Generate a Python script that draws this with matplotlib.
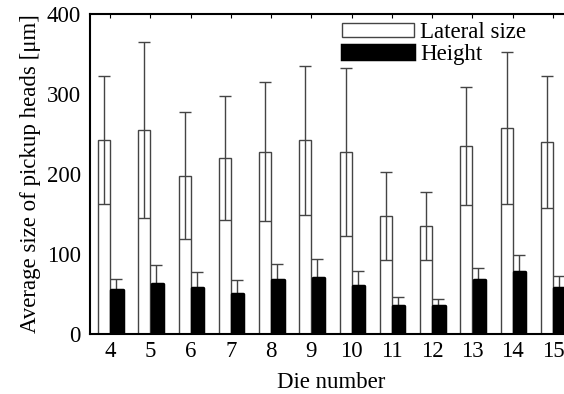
import matplotlib
matplotlib.use("Agg")
import matplotlib.pyplot as plt
import numpy as np

plt.rcParams['font.family'] = ['Liberation Serif', 'DejaVu Serif']

# Per-die measurements (micrometres)
dies = [4, 5, 6, 7, 8, 9, 10, 11, 12, 13, 14, 15]
lateral_mean = [242, 255, 198, 220, 228, 242, 227, 147, 135, 235, 258, 240]
lateral_sd = [80, 110, 79, 77, 87, 93, 105, 55, 42, 74, 95, 82]
height_mean = [55, 62, 57, 50, 67, 70, 60, 35, 35, 67, 78, 57]
height_sd = [14, 24, 21, 17, 21, 24, 19, 11, 9, 16, 21, 16]

fig = plt.figure(figsize=(5.64, 3.94), dpi=100)
ax = fig.add_axes([90 / 564, 60 / 394, 483 / 564, 320 / 394])

x = np.arange(len(dies))
w = 0.3
fs = 16.5

ax.bar(x - w / 2, lateral_mean, width=w, color='white', edgecolor='#444444',
       linewidth=1.0, label='Lateral size', zorder=2)
ax.errorbar(x - w / 2, lateral_mean, yerr=lateral_sd, fmt='none',
            ecolor='#444444', elinewidth=1.0, capsize=4, capthick=1.0, zorder=3)

ax.errorbar(x + w / 2, height_mean, yerr=[np.zeros(len(dies)), height_sd],
            fmt='none', ecolor='#444444', elinewidth=1.0, capsize=4,
            capthick=1.0, zorder=1)
ax.bar(x + w / 2 + 0.02, height_mean, width=w - 0.02, color='black',
       edgecolor='black', linewidth=2.5, joinstyle='round', label='Height',
       zorder=2)

ax.set_xlim(-0.5, len(dies) - 0.5)
ax.set_ylim(0, 400)
ax.set_yticks([0, 100, 200, 300, 400])
ax.set_xticks(x)
ax.set_xticklabels([str(d) for d in dies])

ax.spines['right'].set_visible(False)
for s in ('left', 'top', 'bottom'):
    ax.spines[s].set_linewidth(1.5)

ax.tick_params(axis='y', left=False, labelsize=fs, pad=3)
ax.tick_params(axis='x', bottom=False, top=True, direction='in', length=3,
               width=0.8, labelsize=fs, pad=5)

ax.set_xlabel('Die number', fontsize=fs, labelpad=7)
ax.set_ylabel('Average size of pickup heads [μm]', fontsize=fs, labelpad=4)

leg = ax.legend(loc='upper left', bbox_to_anchor=(241 / 483, 1.0 + 3 / 320),
                frameon=False, fontsize=fs, handlelength=3.1,
                handleheight=0.55, handletextpad=0.3, labelspacing=0.02,
                borderaxespad=0.1)

fig.savefig('out.png', dpi=100)
